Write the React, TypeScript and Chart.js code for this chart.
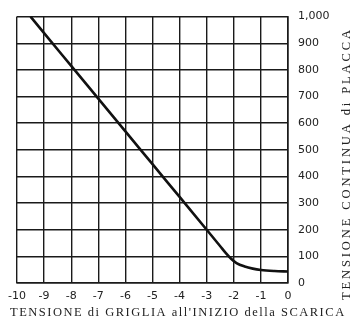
import React, { useEffect, useRef } from "react";
import { Chart, registerables } from "chart.js";

Chart.register(...registerables);

// Grid voltage at start of discharge (V)
const gridVoltage = [-9.5, -9, -8, -7, -6, -5, -4, -3, -2.5, -2.3, -2.1, -1.9, -1.6, -1.3, -1, -0.5, 0];
// DC plate voltage (V)
const plateVoltage = [1000, 938, 815, 692, 569, 446, 323, 200, 138, 113, 91, 75, 62, 54, 49, 45, 43];

const xTicks = [-10, -9, -8, -7, -6, -5, -4, -3, -2, -1, 0];
const yTicks = [0, 100, 200, 300, 400, 500, 600, 700, 800, 900, 1000];

const xTitle = "TENSIONE di GRIGLIA all'INIZIO della SCARICA";
const yTitle = "TENSIONE CONTINUA di PLACCA";

function drawSpaced(ctx: CanvasRenderingContext2D, text: string, cx: number, cy: number, target: number) {
  (ctx as any).letterSpacing = "0px";
  const w = ctx.measureText(text).width;
  const n = text.length;
  const sp = Math.max(0, (target - w) / (n - 1));
  (ctx as any).letterSpacing = sp.toFixed(2) + "px";
  const total = w + sp * (n - 1);
  ctx.textAlign = "left";
  ctx.textBaseline = "middle";
  ctx.fillText(text, cx - total / 2, cy);
  (ctx as any).letterSpacing = "0px";
}

const titlePlugin = {
  id: "customTitles",
  afterDraw(chart: any) {
    const ctx = chart.ctx as CanvasRenderingContext2D;
    ctx.save();
    ctx.fillStyle = "#222";
    ctx.font = "12.5px 'Liberation Serif', serif";
    drawSpaced(ctx, xTitle, 177, 313, 334);
    ctx.translate(347, 165);
    ctx.rotate(-Math.PI / 2);
    drawSpaced(ctx, yTitle, 0, 0, 270);
    ctx.restore();
  },
};

export default function App() {
  const ref = useRef<HTMLCanvasElement>(null);
  useEffect(() => {
    if (!ref.current) return;
    const data = gridVoltage.map((x, i) => ({ x, y: plateVoltage[i] }));
    const chart = new Chart(ref.current, {
      type: "line",
      data: {
        datasets: [
          {
            data,
            borderColor: "#111",
            borderWidth: 2.6,
            pointRadius: 0,
            cubicInterpolationMode: "monotone",
            fill: false,
          },
        ],
      },
      options: {
        animation: false,
        responsive: false,
        devicePixelRatio: 1,
        layout: { padding: { left: 17, top: 14, right: 0, bottom: 0 } },
        plugins: { legend: { display: false }, tooltip: { enabled: false } },
        scales: {
          x: {
            type: "linear",
            min: -10,
            max: 0,
            afterFit: (s: any) => {
              s.height = 43;
            },
            afterBuildTicks: (s: any) => {
              s.ticks = xTicks.map((v) => ({ value: v }));
            },
            grid: { color: "#1a1a1a", lineWidth: 1.4, drawTicks: false },
            border: { display: true, color: "#1a1a1a", width: 1.6 },
            ticks: {
              padding: 7,
              color: "#222",
              font: { family: "'DejaVu Sans', sans-serif", size: 11 },
              maxRotation: 0,
              autoSkip: false,
              callback: (v: any) => String(v),
            },
          },
          y: {
            type: "linear",
            position: "right",
            min: 0,
            max: 1000,
            afterFit: (s: any) => {
              s.width = 68;
            },
            afterBuildTicks: (s: any) => {
              s.ticks = yTicks.map((v) => ({ value: v }));
            },
            grid: { color: "#1a1a1a", lineWidth: 1.4, drawTicks: false },
            border: { display: true, color: "#1a1a1a", width: 1.6 },
            ticks: {
              padding: 10,
              color: "#222",
              font: { family: "'DejaVu Sans', sans-serif", size: 11 },
              autoSkip: false,
              callback: (v: any) => (v >= 1000 ? "1,000" : String(v)),
            },
          },
        },
      },
      plugins: [titlePlugin],
    });
    return () => chart.destroy();
  }, []);
  return (
    <div style={{ position: "fixed", left: 0, top: 0, width: 356, height: 326, background: "#fff" }}>
      <canvas ref={ref} width={356} height={326} style={{ width: 356, height: 326, display: "block" }} />
    </div>
  );
}
